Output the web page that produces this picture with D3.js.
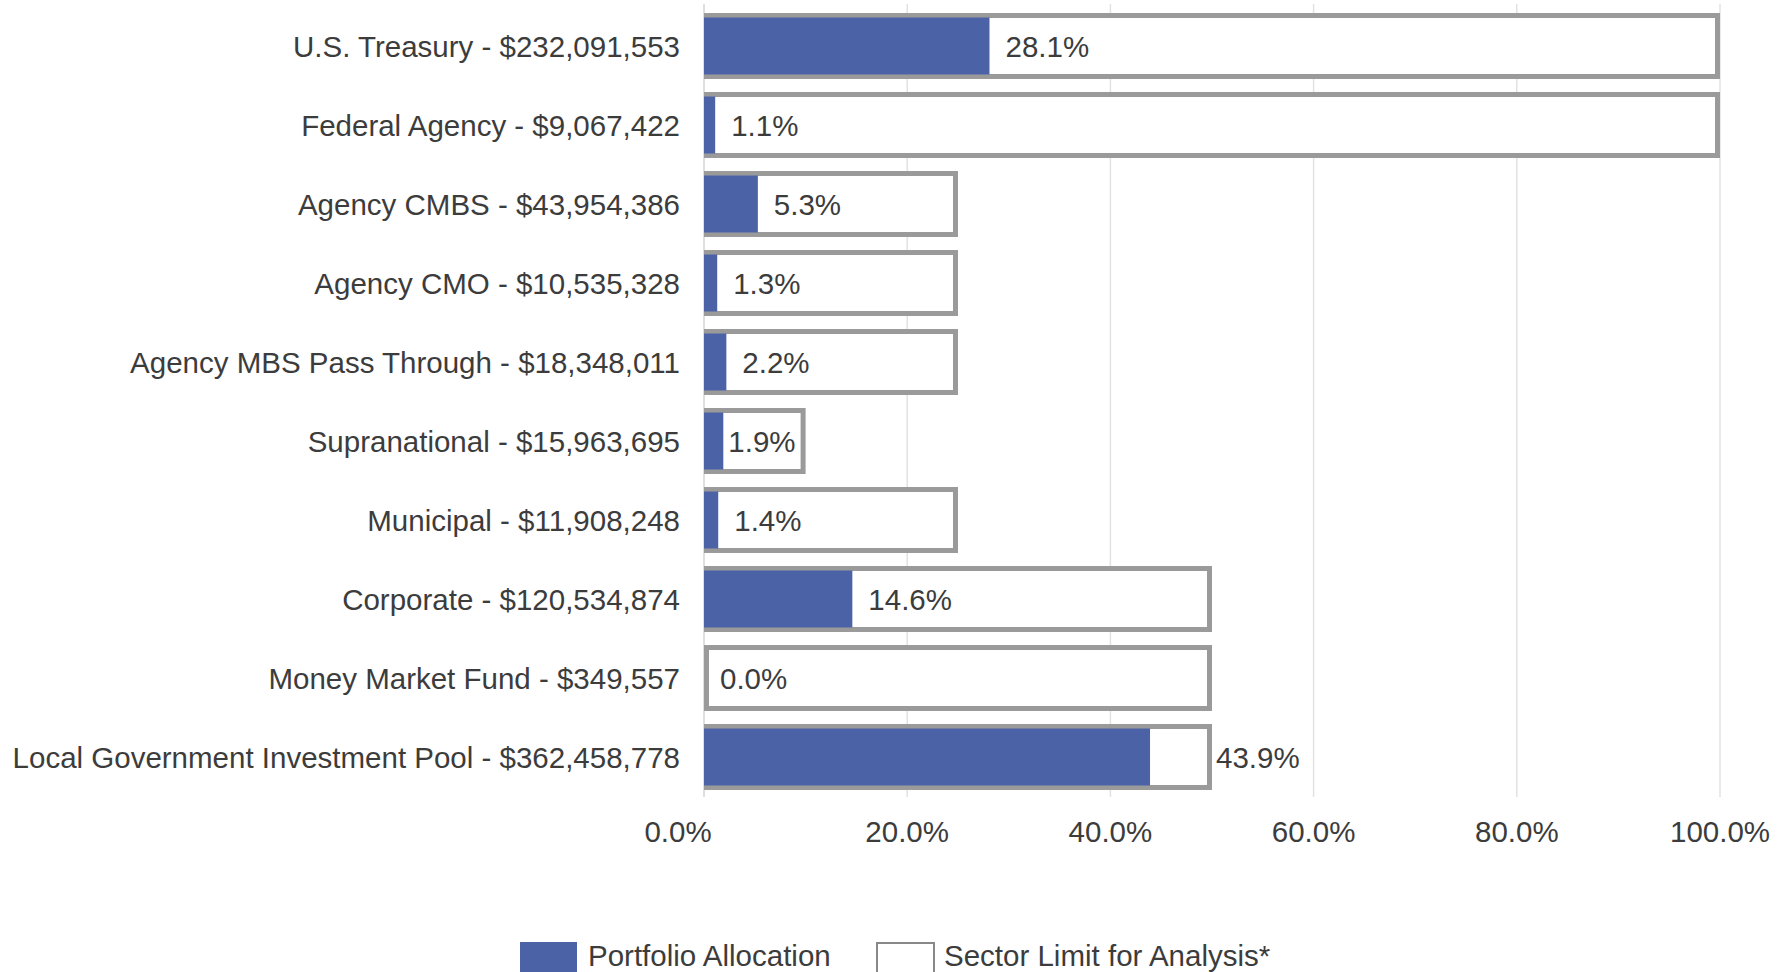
<!DOCTYPE html>
<html lang="en">
  <head>
    <meta charset="UTF-8" />
    <title>Sector Allocation</title>
    <script src="https://cdn.jsdelivr.net/npm/d3@7"></script>
    <style>
      body { margin: 0; background: #fff; }
      text { font-family: "Liberation Sans", Arial, sans-serif; fill: #3c3c3c; }
    </style>
  </head>
  <body>
    <svg width="1784" height="972"></svg>
  </body>
  <script>
    // data
    var categories = [
      "U.S. Treasury - $232,091,553",
      "Federal Agency - $9,067,422",
      "Agency CMBS - $43,954,386",
      "Agency CMO - $10,535,328",
      "Agency MBS Pass Through - $18,348,011",
      "Supranational - $15,963,695",
      "Municipal - $11,908,248",
      "Corporate - $120,534,874",
      "Money Market Fund - $349,557",
      "Local Government Investment Pool - $362,458,778"
    ];
    var allocation = [28.1, 1.1, 5.3, 1.3, 2.2, 1.9, 1.4, 14.6, 0.0, 43.9];
    var sectorLimit = [100, 100, 25, 25, 25, 10, 25, 50, 50, 50];
    var ticks = [0, 20, 40, 60, 80, 100];
    var legendLabels = ["Portfolio Allocation", "Sector Limit for Analysis*"];

    var svg = d3.select("svg");
    var blue = "#4b62a6";
    var boxGray = "#9a9a9a";
    var sw = 5;
    var fs = "29.5px";

    var x = d3.scaleLinear().domain([0, 100]).range([704, 1720]);
    var y = d3
      .scaleBand()
      .domain(categories)
      .range([6.5, 796.5])
      .paddingInner(0.165)
      .paddingOuter(0.0825);

    // grid
    svg
      .append("g")
      .selectAll("line")
      .data(ticks)
      .enter()
      .append("line")
      .attr("x1", (d) => x(d))
      .attr("x2", (d) => x(d))
      .attr("y1", 4)
      .attr("y2", 797)
      .attr("stroke", (d) => (d === 0 ? "#d4d4d4" : "#e2e2e2"))
      .attr("stroke-width", 1.5);

    var rows = categories.map((c, i) => ({
      cat: c,
      val: allocation[i],
      lim: sectorLimit[i]
    }));

    // sector limit boxes
    svg
      .append("g")
      .selectAll("rect")
      .data(rows)
      .enter()
      .append("rect")
      .attr("x", x(0) + sw / 2)
      .attr("y", (d) => y(d.cat) + sw / 2)
      .attr("width", (d) => x(d.lim) - x(0) - sw)
      .attr("height", y.bandwidth() - sw)
      .attr("fill", "#fff")
      .attr("stroke", boxGray)
      .attr("stroke-width", sw);

    // allocation bars
    svg
      .append("g")
      .selectAll("rect")
      .data(rows)
      .enter()
      .append("rect")
      .attr("x", x(0))
      .attr("y", (d) => y(d.cat) + 4.5)
      .attr("width", (d) => x(d.val) - x(0))
      .attr("height", y.bandwidth() - 9)
      .attr("fill", blue);

    // category labels
    svg
      .append("g")
      .selectAll("text")
      .data(rows)
      .enter()
      .append("text")
      .attr("x", 680)
      .attr("y", (d) => y(d.cat) + y.bandwidth() / 2 + 11)
      .attr("text-anchor", "end")
      .attr("font-size", fs)
      .text((d) => d.cat);

    // value labels
    var vl = svg
      .append("g")
      .selectAll("text")
      .data(rows)
      .enter()
      .append("text")
      .attr("y", (d) => y(d.cat) + y.bandwidth() / 2 + 11)
      .attr("font-size", fs)
      .text((d) => d.val.toFixed(1) + "%");
    vl.attr("x", function (d) {
      var w = this.getComputedTextLength();
      var end = x(d.val);
      var boxEnd = x(d.lim);
      if (end + 16 + w <= boxEnd - 6) return end + 16;
      if (boxEnd - end >= w + 6) return boxEnd - w - 10;
      return boxEnd + 4;
    });

    // x tick labels
    svg
      .append("g")
      .selectAll("text")
      .data(ticks)
      .enter()
      .append("text")
      .attr("x", (d) => (d === 0 ? x(d) - 26 : x(d)))
      .attr("y", 842)
      .attr("text-anchor", "middle")
      .attr("font-size", fs)
      .text((d) => d.toFixed(1) + "%");

    // legend
    var lg = svg.append("g");
    lg.append("rect")
      .attr("x", 520)
      .attr("y", 942)
      .attr("width", 57)
      .attr("height", 32)
      .attr("fill", blue);
    lg.append("text")
      .attr("x", 588)
      .attr("y", 966)
      .attr("font-size", fs)
      .text(legendLabels[0]);
    lg.append("rect")
      .attr("x", 877)
      .attr("y", 943)
      .attr("width", 57)
      .attr("height", 32)
      .attr("fill", "#fff")
      .attr("stroke", "#888")
      .attr("stroke-width", 2);
    lg.append("text")
      .attr("x", 944)
      .attr("y", 966)
      .attr("font-size", fs)
      .text(legendLabels[1]);
  </script>
</html>
